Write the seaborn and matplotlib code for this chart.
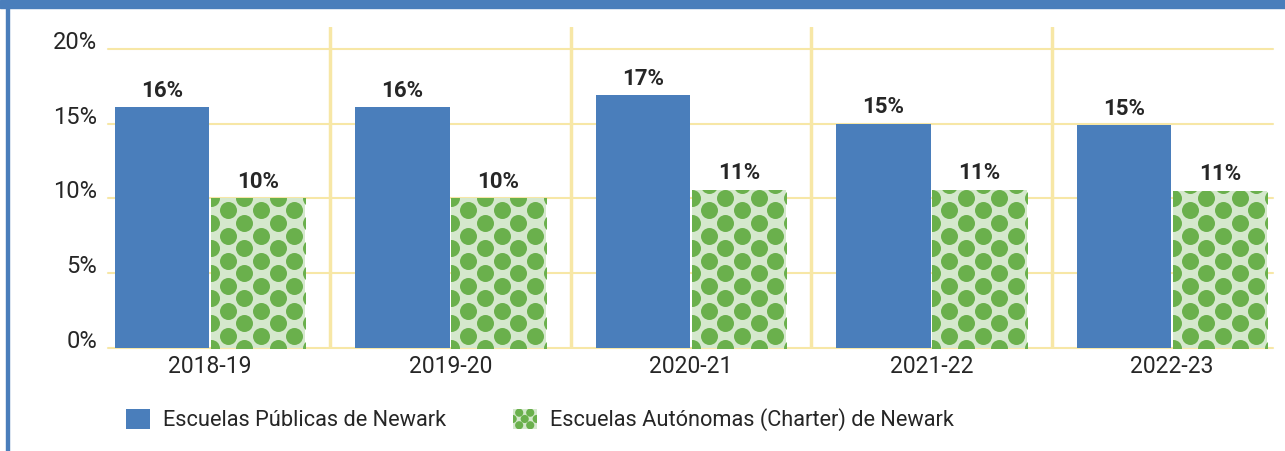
import numpy as np
import pandas as pd
import seaborn as sns
import matplotlib.pyplot as plt
from matplotlib.patches import Rectangle, Circle, Patch
from matplotlib.legend_handler import HandlerBase

years = ["2018-19", "2019-20", "2020-21", "2021-22", "2022-23"]
publicas = [16.1, 16.1, 16.9, 15.0, 14.9]
charter = [10.0, 10.0, 10.6, 10.6, 10.5]
series = ["Escuelas Públicas de Newark", "Escuelas Autónomas (Charter) de Newark"]
yticks = [0, 5, 10, 15, 20]

BLUE = "#4a7ebb"
GREEN = "#6ab04c"
LIGHT_GREEN = "#d5e8cd"
GRID = "#f7e7a6"
TEXT = "#262626"

df = pd.DataFrame({
    "year": years * 2,
    "value": publicas + charter,
    "school": [series[0]] * len(years) + [series[1]] * len(years),
})

sns.set_theme(style="white")
plt.rcParams["font.family"] = ["Roboto", "DejaVu Sans"]

fig = plt.figure(figsize=(12.85, 4.51), dpi=100)
ax = fig.add_axes([108 / 1285, 103 / 451, 1165 / 1285, 321 / 451])

sns.barplot(data=df, x="year", y="value", hue="school", order=years, hue_order=series,
            palette=[BLUE, LIGHT_GREEN], saturation=1, width=0.8, gap=0.02,
            errorbar=None, legend=False, linewidth=0, ax=ax)

ax.set_xlim(-0.424, 4.42)
ax.set_ylim(0, 21.47)
ax.set_autoscale_on(False)

# grid + separators
for t in yticks:
    ax.axhline(t, color=GRID, lw=1.5, zorder=0, clip_on=False)
for i in range(len(years) - 1):
    ax.axvline(i + 0.5, color=GRID, lw=2.5, zorder=0)
for s in ax.spines.values():
    s.set_visible(False)

ax.set_yticks(yticks, labels=[f"{t}%" for t in yticks])
ax.tick_params(axis="y", length=0, pad=8, labelsize=17, labelcolor=TEXT)
for lab in ax.get_yticklabels():
    lab.set_verticalalignment("baseline")
ax.tick_params(axis="x", length=0, pad=5, labelsize=16.5, labelcolor=TEXT)
ax.set_xlabel("")
ax.set_ylabel("")

# value labels
for cont in ax.containers:
    ax.bar_label(cont, labels=[f"{int(v + 0.5)}%" for v in cont.datavalues],
                 padding=4, fontsize=16, fontweight="bold", color=TEXT)

# dotted fill on the charter bars
to_px = ax.transData
to_data = ax.transData.inverted()
for bar in ax.containers[1]:
    x0, y0 = bar.get_x(), bar.get_y()
    x1, y1 = x0 + bar.get_width(), y0 + bar.get_height()
    (px0, py0), (px1, py1) = to_px.transform([(x0, y0), (x1, y1)])
    pts = []
    for ci, cx in enumerate(np.arange(px0, px1 + 17, 16.7)):
        off = 12.5 if ci % 2 else 0
        for cy in np.arange(py0 - 25 + off, py1 + 25, 25):
            pts.append((cx, cy))
    dpts = to_data.transform(pts)
    sc = ax.scatter(dpts[:, 0], dpts[:, 1], s=(17 * 72 / 100) ** 2, color=GREEN,
                    linewidths=0, zorder=3)
    sc.set_clip_path(bar)


class DotHandler(HandlerBase):
    def create_artists(self, legend, orig_handle, xdescent, ydescent, width, height,
                       fontsize, trans):
        bg = Rectangle((-xdescent, -ydescent), width, height, facecolor=LIGHT_GREEN,
                       edgecolor="none", transform=trans)
        arts = [bg]
        r = width * 0.17
        for fx, fy in [(0.27, 0.2), (0.73, 0.2), (0.27, 0.8), (0.73, 0.8),
                       (0.5, 0.5), (0.0, 0.5), (1.0, 0.5)]:
            c = Circle((-xdescent + fx * width, -ydescent + fy * height), r,
                       facecolor=GREEN, edgecolor="none", transform=trans)
            c.set_clip_path(bg)
            arts.append(c)
        return arts


h_pub = Patch(facecolor=BLUE, edgecolor="none")
h_cha = Patch(facecolor=LIGHT_GREEN, edgecolor="none")
fig.legend(handles=[h_pub, h_cha], labels=series, handler_map={h_cha: DotHandler()},
           loc="center left", bbox_to_anchor=(126 / 1285, 31 / 451), ncol=2,
           frameon=False, fontsize=15.7, labelcolor=TEXT, handlelength=1.1,
           handleheight=1.1, handletextpad=0.6, columnspacing=3.05,
           borderpad=0, borderaxespad=0)

# frame
fig.add_artist(Rectangle((0, 1 - 8 / 451), 1, 8 / 451, transform=fig.transFigure,
                         color=BLUE, zorder=5))
fig.add_artist(Rectangle((6 / 1285, 0), 2.5 / 1285, 1, transform=fig.transFigure,
                         color=BLUE, zorder=5))

fig.savefig("out.png", dpi=100)
